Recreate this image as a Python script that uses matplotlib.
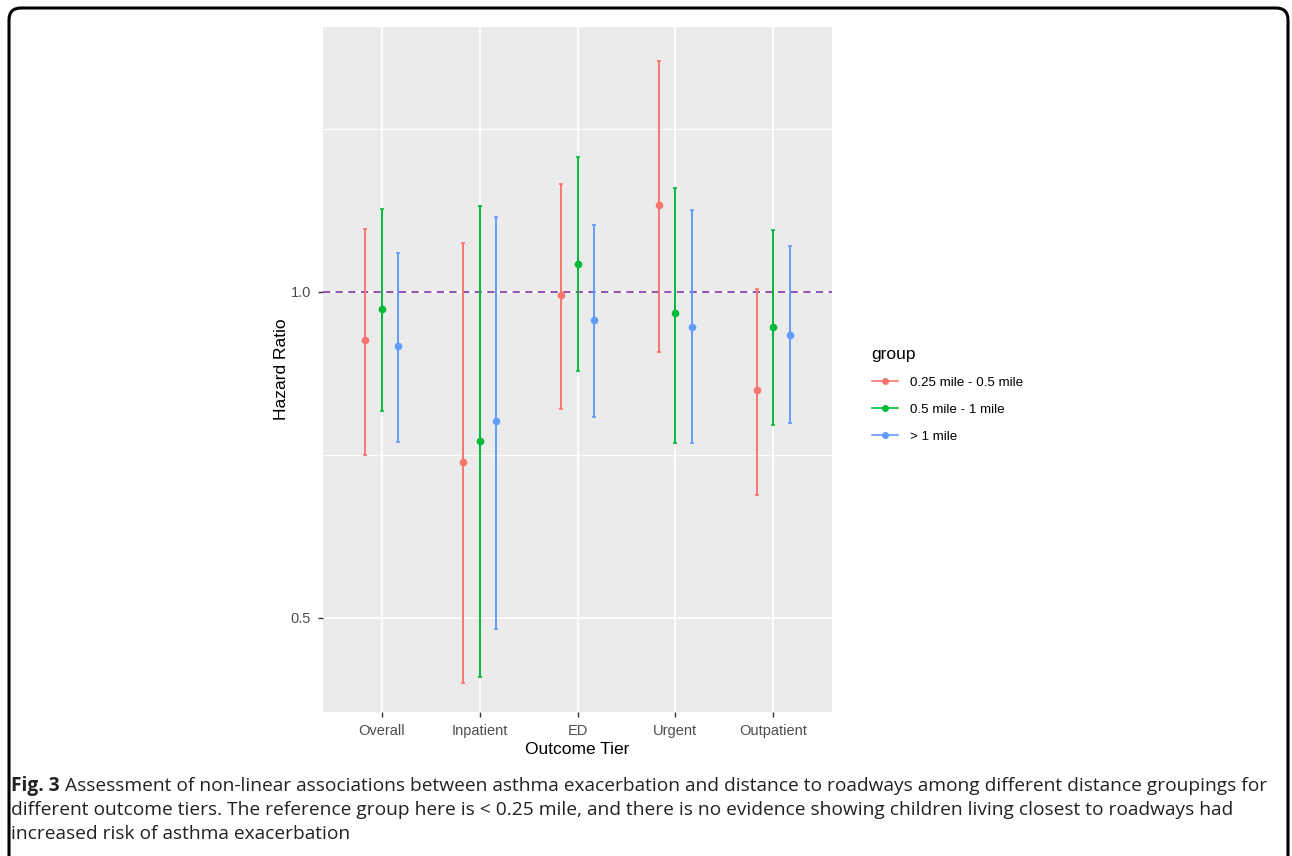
import numpy as np
import matplotlib
matplotlib.use("Agg")
import matplotlib.pyplot as plt
from matplotlib.lines import Line2D
from matplotlib.patches import FancyBboxPatch
from matplotlib.ticker import FixedLocator, FixedFormatter, NullFormatter
from matplotlib.transforms import IdentityTransform

plt.rcParams["font.family"] = ["Liberation Sans", "DejaVu Sans"]

# data
tiers = ["Overall", "Inpatient", "ED", "Urgent", "Outpatient"]
groups = ["0.25 mile - 0.5 mile", "0.5 mile - 1 mile", "> 1 mile"]
colors = ["#F8766D", "#00BA38", "#619CFF"]

hr_near = [0.902, 0.696, 0.993, 1.203, 0.811]
lo_near = [0.706, 0.435, 0.779, 0.880, 0.649]
hi_near = [1.144, 1.110, 1.257, 1.635, 1.007]

hr_mid = [0.964, 0.728, 1.062, 0.955, 0.928]
lo_mid = [0.776, 0.441, 0.845, 0.725, 0.753]
hi_mid = [1.193, 1.201, 1.333, 1.248, 1.140]

hr_far = [0.891, 0.760, 0.942, 0.928, 0.912]
lo_far = [0.727, 0.488, 0.766, 0.725, 0.756]
hi_far = [1.087, 1.173, 1.152, 1.190, 1.102]

est = [hr_near, hr_mid, hr_far]
lower = [lo_near, lo_mid, lo_far]
upper = [hi_near, hi_mid, hi_far]

W, H = 1292, 856
fig = plt.figure(figsize=(W / 100, H / 100), dpi=100)
fig.patch.set_facecolor("white")

ax = fig.add_axes([323 / W, 1 - 712 / H, (832 - 323) / W, (712 - 27) / H])
ax.set_facecolor("#EBEBEB")
for s in ax.spines.values():
    s.set_visible(False)

x = np.arange(len(tiers))
offsets = [-1 / 6, 0, 1 / 6]
for g in range(len(groups)):
    e = np.array(est[g])
    lo = np.array(lower[g])
    hi = np.array(upper[g])
    ax.errorbar(x + offsets[g], e, yerr=[e - lo, hi - e], fmt="o", color=colors[g],
                ms=4.5, elinewidth=1.4, capsize=1.6, capthick=1.2, zorder=3)

ax.axhline(1.0, color="#8E44AD", lw=1.3, ls=(0, (4, 3)), zorder=2)

ax.set_yscale("log")
ax.set_ylim(0.409, 1.757)
ax.set_xlim(-0.6, 4.6)
ax.yaxis.set_major_locator(FixedLocator([0.5, 1.0]))
ax.yaxis.set_major_formatter(FixedFormatter(["0.5", "1.0"]))
ax.yaxis.set_minor_locator(FixedLocator([np.sqrt(0.5), np.sqrt(2)]))
ax.yaxis.set_minor_formatter(NullFormatter())
ax.set_xticks(x)
ax.set_xticklabels(tiers)

ax.grid(True, which="major", color="white", lw=1.3, zorder=0)
ax.grid(True, which="minor", axis="y", color="white", lw=0.8, zorder=0)
ax.set_axisbelow(True)
ax.tick_params(which="major", length=3.5, width=1, color="#333333",
               labelcolor="#4D4D4D", labelsize=10.5, pad=5)
ax.tick_params(which="minor", length=0)

ax.set_ylabel("Hazard Ratio", fontsize=12.5, labelpad=1)
ax.set_xlabel("Outcome Tier", fontsize=12.5, labelpad=3)

handles = [Line2D([], [], color=c, marker="o", ms=4, lw=1.2) for c in colors]
leg = fig.legend(handles, groups, title="group", loc="upper left",
                 bbox_to_anchor=(865 / W, 1 - 340 / H), frameon=False,
                 fontsize=9.6, title_fontsize=12.5, handlelength=2.0,
                 handletextpad=0.9, labelspacing=1.1, borderpad=0)
leg._legend_box.align = "left"

# rounded frame around the figure
frame = FancyBboxPatch((9, -20), 1288 - 9, H - 8 + 20,
                       boxstyle="round,pad=0,rounding_size=12",
                       transform=IdentityTransform(), fill=False,
                       ec="black", lw=2.2)
fig.patches.append(frame)

# caption
cap_font = ["Open Sans", "DejaVu Sans"]
cap_size = 13.8
fig.canvas.draw()
renderer = fig.canvas.get_renderer()
lines = [
    "Assessment of non-linear associations between asthma exacerbation and distance to roadways among different distance groupings for",
    "different outcome tiers. The reference group here is < 0.25 mile, and there is no evidence showing children living closest to roadways had",
    "increased risk of asthma exacerbation",
]
ys = [786, 810, 834]
t = fig.text(11 / W, 1 - ys[0] / H, "Fig. 3", fontweight="bold", family=cap_font,
             fontsize=cap_size, va="center", ha="left", color="#222222")
bb = t.get_window_extent(renderer)
fig.text((bb.x1 + 5) / W, 1 - ys[0] / H, lines[0], family=cap_font,
         fontsize=cap_size, va="center", ha="left", color="#222222")
for ln, yy in zip(lines[1:], ys[1:]):
    fig.text(11 / W, 1 - yy / H, ln, family=cap_font, fontsize=cap_size,
             va="center", ha="left", color="#222222")

fig.savefig("out.png", dpi=100)
